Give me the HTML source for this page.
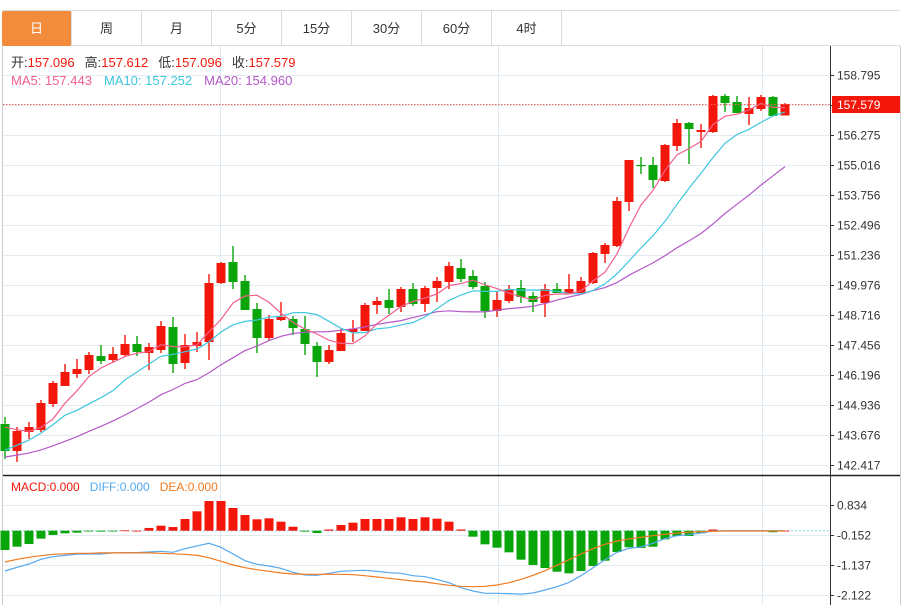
<!DOCTYPE html>
<html><head><meta charset="utf-8">
<style>
html,body{margin:0;padding:0;background:#fff;width:910px;height:605px;overflow:hidden;font-family:"Liberation Sans","Noto Sans CJK SC",sans-serif}
#tabs{position:absolute;left:2px;top:10px;height:36px;width:898px;border-top:1px solid #dcdcdc;border-bottom:1px solid #dcdcdc;box-sizing:border-box}
.tab{position:absolute;top:0;height:35px;width:70px;line-height:35px;text-align:center;font-size:13px;color:#333;border-right:1px solid #dcdcdc;box-sizing:border-box}
.tab.on{background:#f28c3c;color:#fff;border-radius:2px}
svg{position:absolute;left:0;top:0}
</style></head><body>
<div id="tabs">
<div class="tab on" style="left:0">日</div>
<div class="tab" style="left:70px">周</div>
<div class="tab" style="left:140px">月</div>
<div class="tab" style="left:210px">5分</div>
<div class="tab" style="left:280px">15分</div>
<div class="tab" style="left:350px">30分</div>
<div class="tab" style="left:420px">60分</div>
<div class="tab" style="left:490px">4时</div>
</div>
<svg id="chart" width="910" height="605" style="top:0"></svg>
<script>
const preCloses=[142.205,142.289,142.373,142.457,142.541,142.541,142.541,142.541,142.541,142.541,141.785,141.869,142.079,142.289,142.373,144.389,144.305,144.221,144.095];
const opens=[144.137,143.003,143.801,143.885,144.977,145.733,146.237,146.405,146.993,146.825,147.035,147.497,147.119,147.245,148.211,146.699,147.413,147.581,150.059,150.941,150.143,148.967,147.749,148.505,148.547,148.127,147.413,146.741,147.203,148.001,148.043,149.135,149.345,149.051,149.807,149.177,149.849,150.101,150.689,150.353,149.933,148.883,149.303,149.849,149.513,149.219,149.807,149.639,149.639,150.059,151.277,151.613,153.461,155.015,155.015,154.343,155.813,156.779,156.401,156.401,157.913,157.661,157.157,157.367,157.871,157.096];
const highs=[144.431,144.011,144.221,145.145,145.943,146.657,146.867,147.161,147.455,147.371,147.875,147.833,147.539,148.463,148.631,147.917,148.001,150.437,150.941,151.613,150.395,149.219,148.715,149.261,148.673,148.673,147.581,147.455,148.127,148.505,149.219,149.471,149.807,149.891,150.059,149.933,150.311,150.941,151.067,150.605,150.101,149.681,149.975,150.185,149.681,150.017,150.059,150.437,150.311,151.361,151.739,153.671,155.225,155.351,155.351,155.897,156.947,156.821,156.737,157.955,157.997,157.913,157.871,157.955,157.913,157.612];
const lows=[142.667,142.541,143.507,143.801,144.851,145.733,146.069,146.237,146.657,146.741,146.951,146.993,146.405,147.119,146.279,146.447,147.161,146.825,150.017,149.807,148.925,147.119,147.665,148.463,147.875,147.035,146.111,146.657,147.203,147.581,148.043,148.757,148.757,148.841,149.093,148.841,149.261,149.807,150.101,149.807,148.589,148.631,149.219,149.219,148.841,148.631,149.639,149.639,149.639,150.017,150.899,151.571,153.083,154.637,154.049,154.301,155.603,155.057,155.729,156.359,157.241,157.199,156.695,157.283,157.073,157.096];
const closes=[143.003,143.843,144.011,145.019,145.859,146.321,146.447,147.035,146.783,147.077,147.497,147.161,147.371,148.253,146.657,147.455,147.581,150.059,150.899,150.101,148.925,147.749,148.547,148.631,148.169,147.497,146.741,147.245,147.959,148.127,149.135,149.303,149.009,149.807,149.177,149.849,150.143,150.773,150.227,149.891,148.883,149.345,149.807,149.471,149.261,149.807,149.639,149.807,150.143,151.319,151.655,153.503,155.225,154.973,154.385,155.855,156.779,156.527,156.485,157.913,157.619,157.199,157.409,157.871,157.073,157.579];
const macdHist=[-0.634,-0.525,-0.437,-0.26,-0.14,-0.087,-0.065,-0.02,-0.03,-0.01,0.01,0,0.09,0.165,0.12,0.384,0.636,0.975,0.975,0.745,0.515,0.374,0.407,0.296,0.13,-0.03,-0.076,0.04,0.187,0.263,0.384,0.384,0.384,0.44,0.384,0.44,0.394,0.296,0.04,-0.197,-0.447,-0.558,-0.71,-0.952,-1.126,-1.225,-1.346,-1.4,-1.323,-1.159,-0.985,-0.7,-0.545,-0.568,-0.525,-0.283,-0.174,-0.174,-0.087,0.04,0,-0.02,-0.01,0,-0.05,0];
const diffVals=[-1.323,-1.2,-1.093,-0.94,-0.853,-0.81,-0.77,-0.765,-0.765,-0.73,-0.72,-0.72,-0.7,-0.677,-0.71,-0.59,-0.5,-0.415,-0.546,-0.765,-0.985,-1.104,-1.159,-1.236,-1.367,-1.454,-1.465,-1.4,-1.333,-1.313,-1.3,-1.333,-1.379,-1.4,-1.477,-1.51,-1.6,-1.707,-1.87,-1.98,-2.055,-2.055,-2.065,-2.08,-2.045,-1.947,-1.84,-1.7,-1.477,-1.215,-0.952,-0.71,-0.58,-0.535,-0.415,-0.26,-0.164,-0.13,-0.076,-0.01,0,0,0,0,0,0];
const deaVals=[-1.028,-0.94,-0.874,-0.82,-0.776,-0.76,-0.743,-0.743,-0.73,-0.73,-0.73,-0.73,-0.73,-0.743,-0.76,-0.776,-0.81,-0.886,-1.006,-1.126,-1.215,-1.28,-1.333,-1.389,-1.42,-1.43,-1.43,-1.43,-1.43,-1.443,-1.477,-1.52,-1.563,-1.608,-1.651,-1.684,-1.74,-1.793,-1.826,-1.84,-1.826,-1.783,-1.707,-1.6,-1.465,-1.313,-1.137,-0.952,-0.765,-0.59,-0.447,-0.338,-0.272,-0.217,-0.164,-0.118,-0.076,-0.05,-0.03,-0.02,-0.01,-0.01,-0.01,-0.01,-0.01,-0.01];
const priceTicks=[158.795,157.535,156.275,155.016,153.756,152.496,151.236,149.976,148.716,147.456,146.196,144.936,143.676,142.417];
const macdTicks=[0.834,-0.152,-1.137,-2.122];

const NS='http://www.w3.org/2000/svg';
const svg=document.getElementById('chart');
const RED='#f2170a',GREEN='#0aa50a';
function xI(i){return 5+12*i;}
function yP(p){return 75+(158.795-p)/1.26*30;}
function yM(v){return 530.7-v*30.46;}
function mk(tag,attrs,parent){const e=document.createElementNS(NS,tag);for(const k in attrs)e.setAttribute(k,attrs[k]);(parent||svg).appendChild(e);return e;}

// frame
let e;
e=mk('line',{x1:2.5,y1:46,x2:2.5,y2:605,stroke:'#ccc'});

e=mk('line',{x1:900.5,y1:46,x2:900.5,y2:605,stroke:'#ccc'});

// vertical grid
[220,498,762].forEach(x=>{e=mk('line',{x1:x+.5,y1:46,x2:x+.5,y2:605,stroke:'#dde8f0'});
});
// price grid + labels
priceTicks.forEach(p=>{const y=Math.round(yP(p))+.5;
e=mk('line',{x1:3,y1:y,x2:830,y2:y,stroke:'#e3eaf0'});

e=mk('line',{x1:830,y1:y,x2:834,y2:y,stroke:'#333'});

e=mk('text',{x:837,y:y+4,'font-size':12,fill:'#333'});e.textContent=p.toFixed(3);
});
// macd grid
macdTicks.forEach(v=>{const y=Math.round(yM(v))+.5;
e=mk('line',{x1:3,y1:y,x2:830,y2:y,stroke:'#e3eaf0'});

e=mk('line',{x1:830,y1:y,x2:834,y2:y,stroke:'#333'});

e=mk('text',{x:837,y:y+4,'font-size':12,fill:'#333'});e.textContent=v.toFixed(3);
});
// axis lines
e=mk('line',{x1:830.5,y1:46,x2:830.5,y2:605,stroke:'#333'});

e=mk('line',{x1:3,y1:475.5,x2:900,y2:475.5,stroke:'#222','stroke-width':1.5});


// candles
const full=preCloses.concat(closes);
for(let i=0;i<closes.length;i++){
  const up=closes[i]>=opens[i];const c=up?RED:GREEN;const x=xI(i);
  e=mk('line',{x1:x,y1:yP(highs[i]),x2:x,y2:yP(lows[i]),stroke:c,'stroke-width':1.4});
  
  const t=yP(Math.max(opens[i],closes[i])),b=yP(Math.min(opens[i],closes[i]));
  e=mk('rect',{x:x-4.5,y:t,width:9,height:Math.max(1.2,b-t),fill:c});
  
}
// MAs
function maPts(n){const pts=[];const off=preCloses.length;
  for(let i=0;i<closes.length;i++){let s=0;for(let k=i+off-n+1;k<=i+off;k++)s+=full[k];pts.push(xI(i)+','+yP(s/n).toFixed(1));}
  return pts.join(' ');}
e=mk('polyline',{points:maPts(20),fill:'none',stroke:'#b459c8','stroke-width':1.2});

e=mk('polyline',{points:maPts(10),fill:'none',stroke:'#3ec6de','stroke-width':1.2});

e=mk('polyline',{points:maPts(5),fill:'none',stroke:'#f2608c','stroke-width':1.2});


// current price line
const last=closes[closes.length-1];const yl=Math.round(yP(last))+.5;
e=mk('line',{x1:3,y1:yl,x2:830,y2:yl,stroke:'#f26060','stroke-dasharray':'1.5,1.5'});

e=mk('rect',{x:832,y:yl-8.5,width:68,height:17,fill:'#f2170a'});

e=mk('text',{x:837,y:yl+4.5,'font-size':12,fill:'#fff'});e.textContent=last.toFixed(3);


// MACD
const z=yM(0);
e=mk('line',{x1:3,y1:z,x2:830,y2:z,stroke:'#7fd0ec','stroke-dasharray':'2,2'});

macdHist.forEach((v,i)=>{const y=yM(v);
  e=mk('rect',{x:xI(i)-4.5,y:Math.min(y,z),width:9,height:Math.max(0.8,Math.abs(y-z)),fill:v>=0?RED:GREEN});
  });
e=mk('polyline',{points:diffVals.map((v,i)=>xI(i)+','+yM(v).toFixed(1)).join(' '),fill:'none',stroke:'#55a8f0','stroke-width':1.2});

e=mk('polyline',{points:deaVals.map((v,i)=>xI(i)+','+yM(v).toFixed(1)).join(' '),fill:'none',stroke:'#f27a1e','stroke-width':1.2});

</script>
<svg width="910" height="605" style="pointer-events:none">
<text x="11" y="67" font-size="13"><tspan fill="#333">开:</tspan><tspan fill="#f2170a">157.096</tspan><tspan fill="#333" dx="10">高:</tspan><tspan fill="#f2170a">157.612</tspan><tspan fill="#333" dx="10">低:</tspan><tspan fill="#f2170a">157.096</tspan><tspan fill="#333" dx="10">收:</tspan><tspan fill="#f2170a">157.579</tspan></text>
<text x="11" y="85" font-size="13"><tspan fill="#f2608c">MA5: 157.443</tspan><tspan fill="#3ec6de" dx="12">MA10: 157.252</tspan><tspan fill="#b459c8" dx="12">MA20: 154.960</tspan></text>
<text x="11" y="491" font-size="12"><tspan fill="#f2170a">MACD:0.000</tspan><tspan fill="#55a8f0" dx="10">DIFF:0.000</tspan><tspan fill="#f27a1e" dx="10">DEA:0.000</tspan></text>
</svg>
</body></html>
